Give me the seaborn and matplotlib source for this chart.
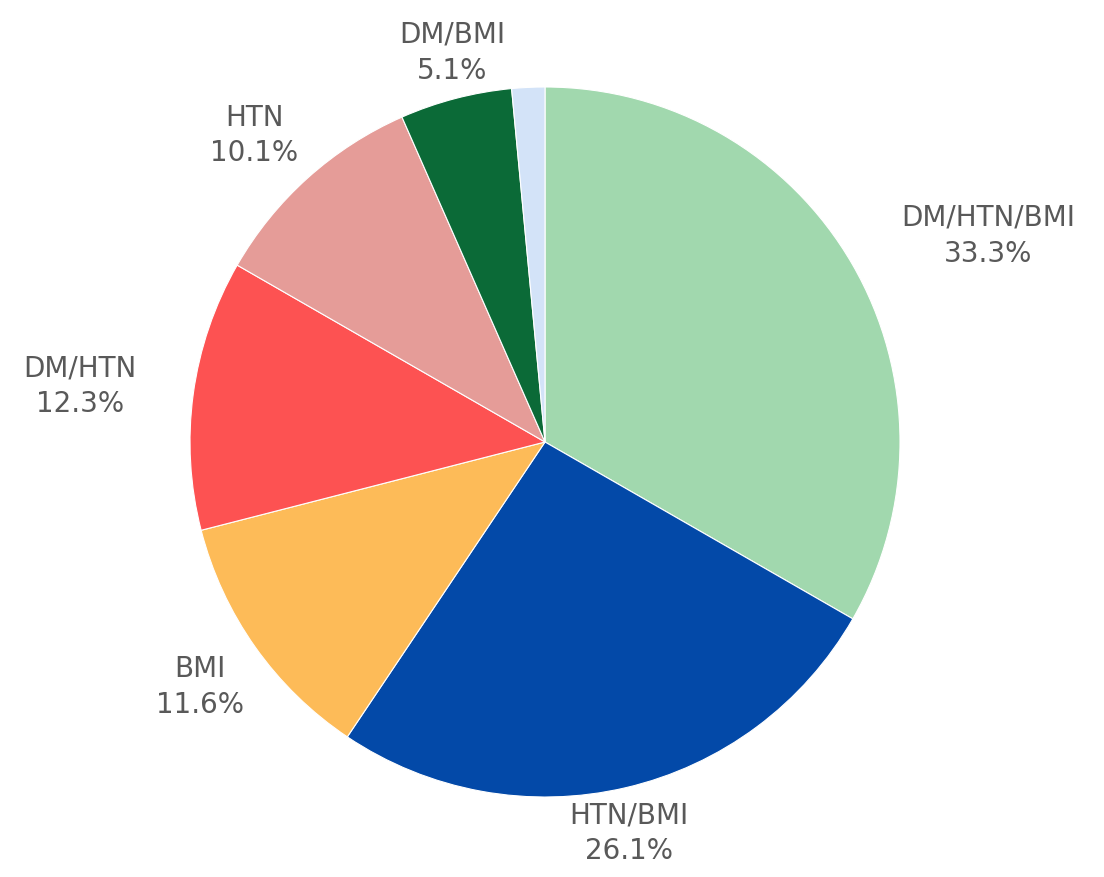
import numpy as np
import matplotlib
matplotlib.use("Agg")
import matplotlib.pyplot as plt
import seaborn as sns

sns.set_theme(style="white")
plt.rcParams["font.family"] = ["DejaVu Sans"]

# Share of patients by combination of risk factors
categories = ["DM/HTN/BMI", "HTN/BMI", "BMI", "DM/HTN", "HTN", "DM/BMI", "DM"]
shares = [33.3, 26.1, 11.6, 12.3, 10.1, 5.1, 1.5]
colors = ["#a1d8ae", "#0349a8", "#fdbb58", "#fd5252", "#e59c98", "#0b6a37", "#d3e3f8"]
min_labeled_share = 2.0

W, H = 1104, 877
fig = plt.figure(figsize=(W / 100, H / 100), dpi=100)

# Axes sized so one data unit equals the pie radius in pixels
R = 355
cx, cy = 545, H - 442
span = 1.6
side = 2 * span * R
ax = fig.add_axes([(cx - side / 2) / W, (cy - side / 2) / H, side / W, side / H])

wedges, _ = ax.pie(
    shares,
    colors=colors,
    startangle=90,
    counterclock=False,
    wedgeprops=dict(edgecolor="white", linewidth=0.8),
)
ax.set_xlim(-span, span)
ax.set_ylim(-span, span)
ax.set_aspect("equal")
ax.axis("off")

for w, name, val in zip(wedges, categories, shares):
    if val < min_labeled_share:
        continue
    mid = np.deg2rad((w.theta1 + w.theta2) / 2)
    c, s = np.cos(mid), np.sin(mid)
    ha = "left" if c > 0.3 else ("right" if c < -0.3 else "center")
    va = "bottom" if s > 0.55 else ("top" if s < -0.55 else "center")
    d = 1.16 if va == "center" else 1.04
    ax.text(d * c, d * s, f"{name}\n{val:.1f}%", ha=ha, va=va,
            multialignment="center", fontsize=20, color="#595959",
            linespacing=1.35)

fig.savefig("out.png", dpi=100, facecolor="white")
